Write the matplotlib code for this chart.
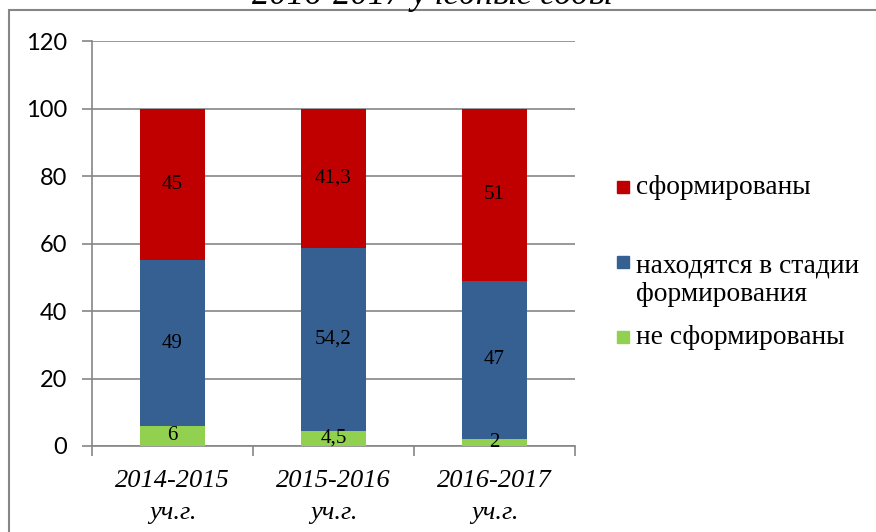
import matplotlib
matplotlib.use("Agg")
from matplotlib import pyplot as plt
from matplotlib.patches import Rectangle
import numpy as np

# data
categories = ["2014-2015\nуч.г.", "2015-2016\nуч.г.", "2016-2017\nуч.г."]
not_formed = [6, 4.5, 2]
in_progress = [49, 54.2, 47]
formed = [45, 41.3, 51]
series_names = ["сформированы", "находятся в стадии\nформирования", "не сформированы"]
title = "2016-2017 учебные годы"

RED = "#c00000"
BLUE = "#376092"
GREEN = "#92d050"
GRAY = "#868686"
SERIF = "Liberation Serif"


def fmt(v):
    # russian decimal comma
    s = ("%g" % v)
    return s.replace(".", ",")


fig = plt.figure(figsize=(8.76, 5.32), dpi=100)
ax = fig.add_axes([92 / 876, 1 - 446 / 532, (575 - 92) / 876, (446 - 41) / 532])

x = np.arange(len(categories))
w = 0.40
b1 = ax.bar(x, not_formed, w, color=GREEN, zorder=3)
b2 = ax.bar(x, in_progress, w, bottom=not_formed, color=BLUE, zorder=3)
bottom3 = np.array(not_formed) + np.array(in_progress)
b3 = ax.bar(x, formed, w, bottom=bottom3, color=RED, zorder=3)

for bars, vals in [(b1, not_formed), (b2, in_progress), (b3, formed)]:
    ax.bar_label(bars, labels=[fmt(v) for v in vals], label_type="center",
                 fontsize=15, family=SERIF, color="black", zorder=4)

ax.set_xlim(-0.5, len(categories) - 0.5)
ax.set_ylim(0, 120)
ax.set_yticks(np.arange(0, 121, 20))
ax.yaxis.grid(True, color=GRAY, lw=1.2, zorder=0)

ax.set_xticks(x)
ax.set_xticklabels(categories, fontsize=19, family=SERIF, style="italic",
                   linespacing=1.6)
ax.set_xticks(np.arange(-0.5, len(categories), 1), minor=True)
ax.tick_params(axis="x", which="major", length=0, pad=17)
ax.tick_params(axis="x", which="minor", length=7, width=1.2, color=GRAY)
ax.tick_params(axis="y", length=7, width=1.2, color=GRAY, pad=11,
               labelsize=17)
for lab in ax.get_yticklabels():
    lab.set_family("Lato")

for side in ["top", "right"]:
    ax.spines[side].set_visible(False)
for side in ["left", "bottom"]:
    ax.spines[side].set_color(GRAY)
    ax.spines[side].set_linewidth(1.2)

# legend drawn by hand so the spacing follows the original
leg_colors = [RED, BLUE, GREEN]
box_y = [187, 262, 337]
text_y = [187, 280, 338]
for name, col, by, ty in zip(series_names, leg_colors, box_y, text_y):
    fig.patches.append(Rectangle((617 / 876, 1 - (by + 6) / 532), 12 / 876, 12 / 532,
                                 transform=fig.transFigure, color=col))
    fig.text(636 / 876, 1 - ty / 532, name, fontsize=19.8, family=SERIF,
             va="center", ha="left", linespacing=1.17,
             transform=fig.transFigure)

# outer chart frame, cut off by the picture on the right and bottom
fig.patches.append(Rectangle((9 / 876, -0.1), 1.2, 1 - 10 / 532 + 0.1,
                             transform=fig.transFigure, fill=False,
                             edgecolor=GRAY, lw=1.5))

# title mostly cut off at the top, as in the source picture
fig.text(432 / 876, 1 - 4 / 532, title, fontsize=25, family=SERIF,
         style="italic", ha="center", va="baseline")

fig.savefig("out.png", dpi=100)
